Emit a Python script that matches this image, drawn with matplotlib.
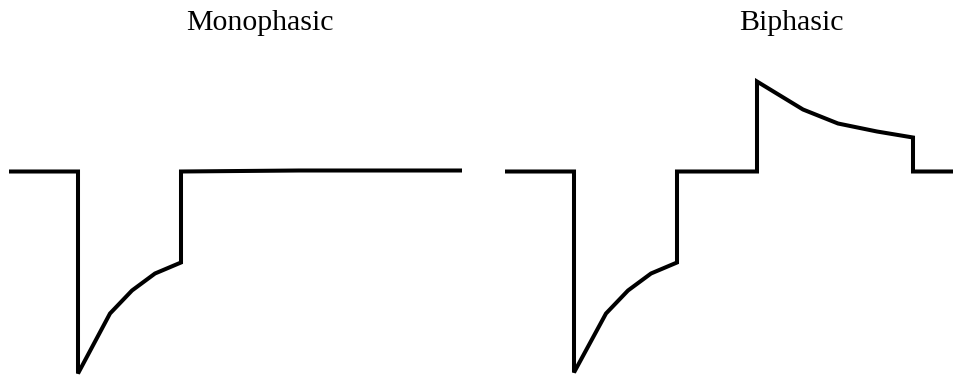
import matplotlib.pyplot as plt

# waveform values (time, amplitude; baseline = 0)
mono_t = [0, 69, 69, 101, 123, 146, 172, 172, 290, 453]
mono_v = [0, 0, -202, -142, -119, -102, -91, 0, 1, 1]

bi_t = [0, 69, 69, 101, 123, 146, 172, 172, 252, 252, 298, 333, 372, 408, 408, 449]
bi_v = [0, 0, -201, -142, -119, -102, -91, 0, 0, 90, 62, 48, 40, 34, 0, 0]

titles = ["Monophasic", "Biphasic"]

W, H = 954, 383
fig = plt.figure(figsize=(W / 100, H / 100), dpi=100)

ylo, yhi = -210, 100
ax_h = (yhi - ylo) / H
ax_b = (H - (171.5 - ylo)) / H

ax1 = fig.add_axes([9 / W, ax_b, 453 / W, ax_h])
ax2 = fig.add_axes([505 / W, ax_b, 449 / W, ax_h])

for ax, t, v, xmax in [(ax1, mono_t, mono_v, 453), (ax2, bi_t, bi_v, 449)]:
    ax.plot(t, v, color='black', lw=2.9, solid_joinstyle='miter',
            solid_capstyle='butt', clip_on=False)
    ax.set_xlim(0, xmax)
    ax.set_ylim(ylo, yhi)
    ax.axis('off')

fig.text(260 / W, 1 - 30 / H, titles[0], ha='center', va='baseline',
         fontsize=21.5, family='Liberation Serif')
fig.text(791 / W, 1 - 30 / H, titles[1], ha='center', va='baseline',
         fontsize=21.5, family='Liberation Serif')

fig.savefig('out.png', dpi=100)
